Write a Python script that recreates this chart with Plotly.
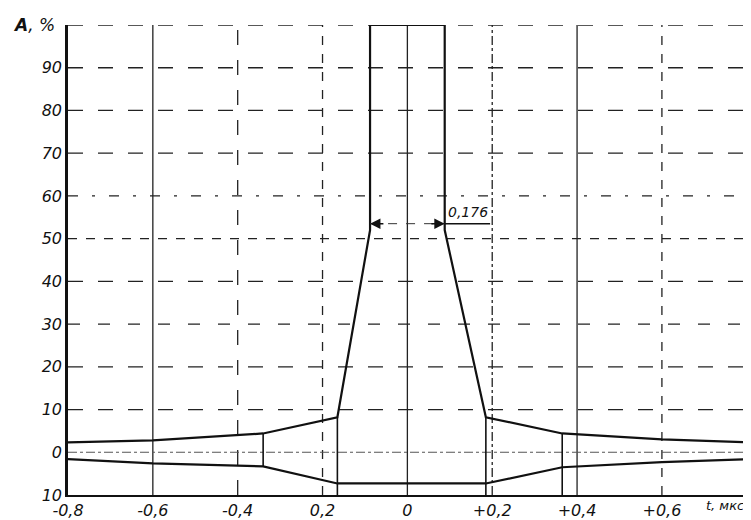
import plotly.graph_objects as go

# ---- data ----
upper_t = [-0.8, -0.6, -0.34, -0.165, -0.088, -0.088, 0.088, 0.088, 0.185, 0.365, 0.6, 0.81]
upper_a = [2.3, 2.8, 4.4, 8.2, 52, 100, 100, 52, 8.2, 4.4, 3.0, 2.3]
lower_t = [-0.8, -0.6, -0.34, -0.165, 0.185, 0.365, 0.6, 0.81]
lower_a = [-1.6, -2.6, -3.3, -7.3, -7.3, -3.5, -2.3, -1.6]
marker_t = [-0.34, -0.165, 0.185, 0.365]
marker_low = [-3.3, -10, -10, -10]
marker_high = [4.4, 8.2, 8.2, 4.4]

pulse_width = 0.176
dim_level = 53.5

x_tick_vals = [-0.8, -0.6, -0.4, -0.2, 0, 0.2, 0.4, 0.6]
x_tick_text = ["-0,8", "-0,6", "-0,4", "0,2", "0", "+0,2", "+0,4", "+0,6"]
y_tick_vals = [-10, 0, 10, 20, 30, 40, 50, 60, 70, 80, 90]
y_tick_text = ["10", "0", "10", "20", "30", "40", "50", "60", "70", "80", "90"]

X_MIN, X_MAX = -0.8, 0.81
Y_MIN, Y_MAX = -10, 100

vgrid_vals = [-0.6, -0.4, -0.2, 0, 0.2, 0.4, 0.6, 0.8]
vgrid_dash = ["solid", "longdash", "dash", "solid", "dashdot", "solid", "dash", "dash"]
hgrid_vals = [0, 10, 20, 30, 40, 50, 60, 70, 80, 90, 100]
hgrid_dash = ["dashdot", "longdash", "longdash", "12px,18px", "longdash", "dash",
              "10px,14px,3px,14px", "longdash", "longdash", "longdash", "longdash"]

INK = "#111111"
FONT = "DejaVu Sans"

fig = go.Figure()

# grid lines
for v, d in zip(vgrid_vals, vgrid_dash):
    fig.add_shape(type="line", x0=v, x1=v, y0=Y_MIN, y1=Y_MAX, xref="x", yref="y",
                  line=dict(color="#222222", width=1.3, dash=d), layer="below")
for v, d in zip(hgrid_vals, hgrid_dash):
    fig.add_shape(type="line", x0=X_MIN, x1=X_MAX, y0=v, y1=v, xref="x", yref="y",
                  line=dict(color="#222222" if v != 0 else "#555555", width=1.3 if v != 0 else 1.1, dash=d),
                  layer="below")

# envelope curves
fig.add_trace(go.Scatter(x=upper_t, y=upper_a, mode="lines",
                         line=dict(color=INK, width=2.2), hoverinfo="skip", showlegend=False))
fig.add_trace(go.Scatter(x=lower_t, y=lower_a, mode="lines",
                         line=dict(color=INK, width=2.2), hoverinfo="skip", showlegend=False))

# vertical marker segments
for t, lo, hi in zip(marker_t, marker_low, marker_high):
    fig.add_trace(go.Scatter(x=[t, t], y=[lo, hi], mode="lines",
                             line=dict(color=INK, width=1.6), hoverinfo="skip", showlegend=False))

# dimension line for pulse width
half = pulse_width / 2
fig.add_trace(go.Scatter(x=[-half, half], y=[dim_level, dim_level], mode="lines",
                         line=dict(color="#333333", width=1, dash="dash"),
                         hoverinfo="skip", showlegend=False))
fig.add_trace(go.Scatter(x=[half, half + 0.107], y=[dim_level, dim_level], mode="lines",
                         line=dict(color=INK, width=1.4), hoverinfo="skip", showlegend=False))
for sgn in (-1, 1):
    fig.add_annotation(x=sgn * half, y=dim_level, ax=sgn * (half - 0.035), ay=dim_level,
                       xref="x", yref="y", axref="x", ayref="y", showarrow=True,
                       arrowhead=2, arrowsize=1.3, arrowwidth=1.6, arrowcolor=INK, text="")
fig.add_annotation(x=half + 0.055, y=dim_level, yshift=12, xref="x", yref="y",
                   text="0,176", showarrow=False,
                   font=dict(family=FONT, size=14, color=INK, style="italic"))

# axis titles
fig.add_annotation(x=0, y=1, xref="paper", yref="paper", xshift=-34, yshift=-12,
                   text="<b>A</b>, %", showarrow=False, xanchor="center", yanchor="bottom",
                   font=dict(family=FONT, size=17, color=INK, style="italic"))
fig.add_annotation(x=1, y=0, xref="paper", yref="paper", xshift=-6, yshift=-2,
                   text="t, мкс", showarrow=False, xanchor="right", yanchor="top",
                   bgcolor="white", borderpad=0,
                   font=dict(family=FONT, size=13, color=INK, style="italic"))

# page body has an 8px margin, so the figure is 8px smaller to fit the 751x520 window
fig.update_layout(
    width=743, height=512,
    margin=dict(l=60, r=0, t=17, b=25),
    paper_bgcolor="white", plot_bgcolor="white",
    xaxis=dict(range=[X_MIN, X_MAX], tickvals=x_tick_vals, ticktext=x_tick_text,
               showgrid=False, zeroline=False, showline=True, linecolor=INK, linewidth=2,
               ticks="", ticklen=0, automargin=False,
               tickfont=dict(family=FONT, size=16, color=INK, style="italic")),
    yaxis=dict(range=[Y_MIN, Y_MAX], tickvals=y_tick_vals, ticktext=y_tick_text,
               showgrid=False, zeroline=False, showline=True, linecolor=INK, linewidth=2.5,
               ticks="", ticklen=0, automargin=False,
               tickfont=dict(family=FONT, size=16, color=INK, style="italic")),
)

fig.write_html("out.html")
